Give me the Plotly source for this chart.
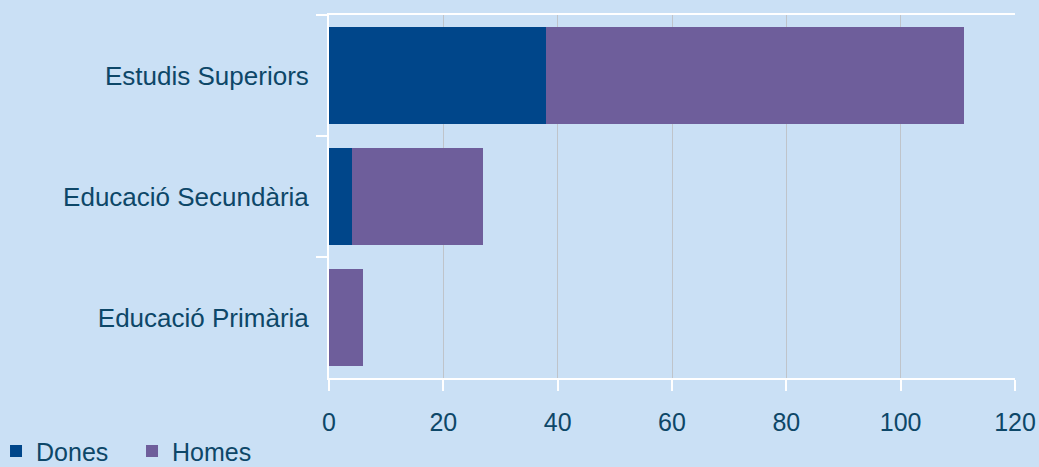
import plotly.graph_objects as go

categories = ["Estudis Superiors", "Educació Secundària", "Educació Primària"]
dones = [38, 4, 0]
homes = [73, 23, 6]
x_ticks = [0, 20, 40, 60, 80, 100, 120]

bg = "#cae0f5"
txt = "#0d4768"

fig = go.Figure()
fig.add_trace(go.Bar(y=categories, x=dones, name="Dones", orientation="h",
                     marker=dict(color="#00468a", line=dict(width=0))))
fig.add_trace(go.Bar(y=categories, x=homes, name="Homes", orientation="h",
                     marker=dict(color="#6e5e9b", line=dict(width=0))))

fig.update_layout(
    barmode="stack",
    bargap=0.2,
    width=1039, height=467,
    margin=dict(l=329, r=24, t=15, b=89, autoexpand=False),
    paper_bgcolor=bg,
    plot_bgcolor=bg,
    font=dict(family="Liberation Sans, Arial, sans-serif", size=25, color=txt),
    showlegend=True,
    legend=dict(orientation="h", x=-0.4854, xanchor="left", y=-0.202, yanchor="middle",
                font=dict(size=25, color=txt), bgcolor="rgba(0,0,0,0)",
                itemwidth=30, entrywidth=91, traceorder="normal"),
    xaxis=dict(range=[0, 120], tickvals=x_ticks, showgrid=True, gridcolor="#bfc4ca",
               gridwidth=1, zeroline=False, showline=True, mirror=True,
               linecolor="white", linewidth=2,
               ticks="outside", tickcolor="white", ticklen=11, tickwidth=2,
               ticklabelstandoff=10, tickfont=dict(size=25, color=txt)),
    yaxis=dict(autorange="reversed", showgrid=False, showline=True, linecolor="white",
               linewidth=2, ticks="outside", tickson="boundaries", tickcolor="white",
               ticklen=11, tickwidth=2, ticklabelstandoff=13,
               tickfont=dict(size=26, color=txt)),
)

fig.write_html("out.html", config={"displayModeBar": False},
               post_script="document.body.style.margin='0';")
